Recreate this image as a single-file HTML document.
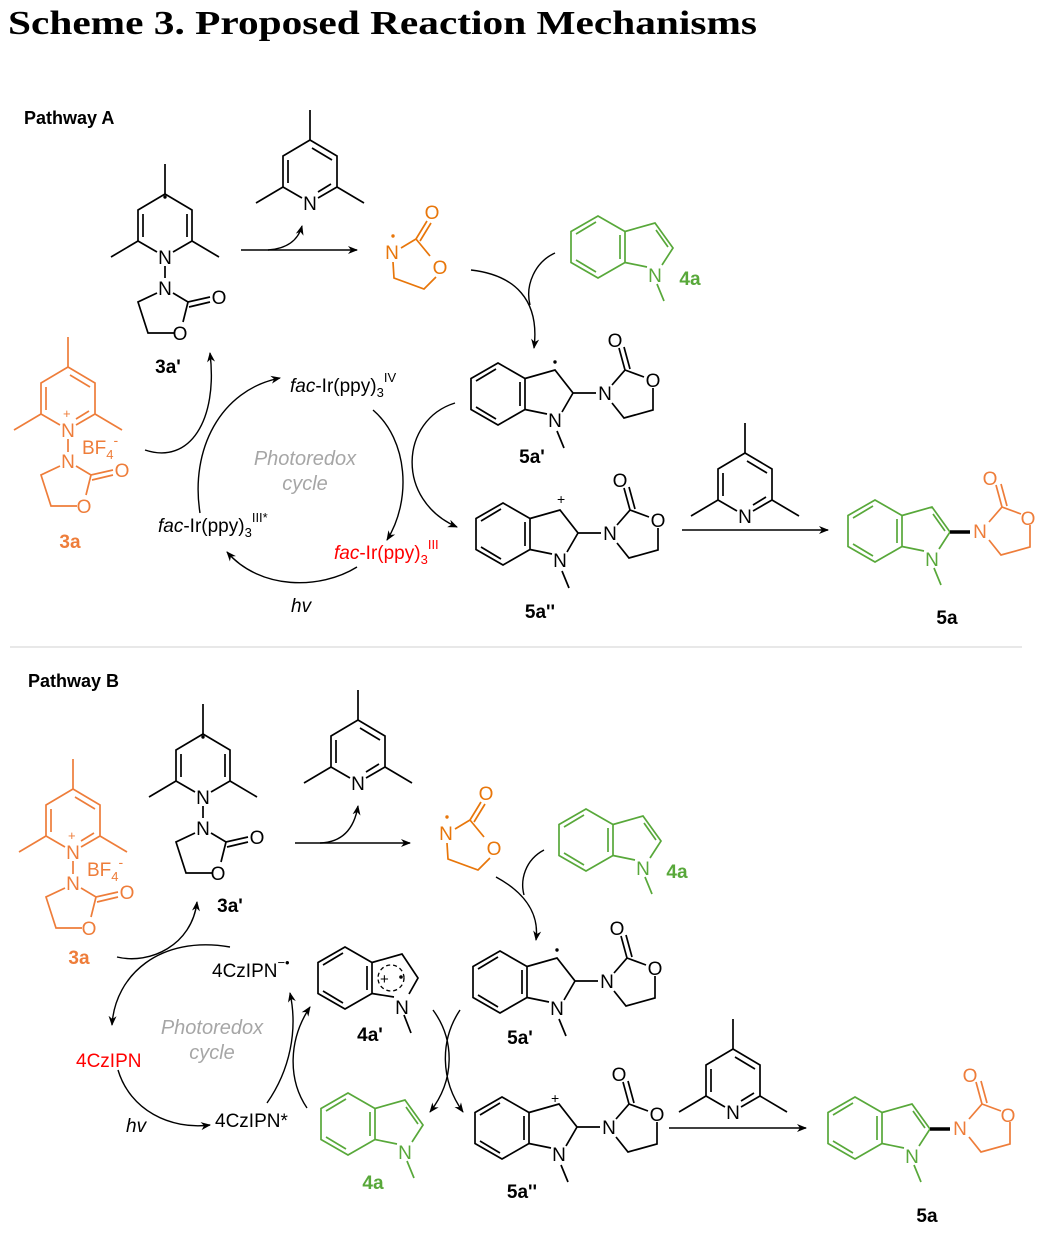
<!DOCTYPE html>
<html><head><meta charset="utf-8"><style>
html,body{margin:0;padding:0;background:#fff;width:1037px;height:1235px;overflow:hidden}
svg{display:block}
text{font-family:"Liberation Sans",sans-serif}
.at{font-size:19px;text-anchor:middle}
.lb{font-size:19px;font-weight:bold;text-anchor:middle}
.it{font-style:italic}
.gr{fill:#a6a6a6;font-style:italic;font-size:20px;text-anchor:middle}
</style></head><body>
<svg width="1037" height="1235" viewBox="0 0 1037 1235" xmlns="http://www.w3.org/2000/svg">
<defs>
<marker id="ah" viewBox="0 0 10 10" refX="9" refY="5" markerWidth="10" markerHeight="10" orient="auto" markerUnits="userSpaceOnUse">
<path d="M0,1 L10,5 L0,9 L3,5 z" fill="#000"/></marker>
<g id="pyr" fill="none" stroke="currentColor" stroke-width="1.7">
<path d="M-8,-5 L-27,-16 L-27,-47 L0,-63 L27,-47 L27,-16 L8,-5"/>
<path d="M-22,-20 L-22,-43 M2,-55 L22,-43 M21,-19 L8,-11"/>
<path d="M-27,-16 L-54,0 M27,-16 L54,0 M0,-63 L0,-93"/>
</g>
<g id="dhp" fill="none" stroke="currentColor" stroke-width="1.7">
<path d="M-8,-5 L-27,-16 L-27,-47 L0,-63 L27,-47 L27,-16 L8,-5"/>
<path d="M-22,-20 L-22,-43 M22,-20 L22,-43"/>
<path d="M-27,-16 L-54,0 M27,-16 L54,0 M0,-63 L0,-93 M0,9 L0,21"/>
</g>
<g id="oxN" fill="none" stroke="currentColor" stroke-width="1.7">
<path d="M8,5 L23,14 L45,9 M24,19 L45,14 M23,14 L18,34 M9,45 L-17,45 L-27,14 L-8,5"/>
</g>
<g id="oxR" fill="none" stroke="currentColor" stroke-width="1.7">
<path d="M9,-4 L24,-13 L35,-31 M28,-11 L39,-29 M24,-13 L38,4 M44,25 L32,37 L2,26 L1,10"/>
</g>
<g id="benz" fill="none" stroke="currentColor" stroke-width="1.7">
<path d="M0,-31 L27,-15.5 L27,15.5 L0,31 L-27,15.5 L-27,-15.5 Z"/>
<path d="M-22,-13 L-2,-25 M-22,13 L-2,25 M22,-12 L22,12"/>
</g>
<g id="pyrl" fill="none" stroke="currentColor" stroke-width="1.7">
<path d="M27,-15.5 L57,-24 L75,1 L64,18 M49,20 L27,15.5 M58,-17 L70,0 M59,37 L66,54"/>
</g>
<g id="indl" fill="none" stroke="#000" stroke-width="1.7">
<path d="M27,-15.5 L57,-24 L75,-1 L64,18 M49,20 L27,15.5 M59,37 L66,54 M75,-1 L98,-1"/>
<path d="M114,-9 L127,-24 L121,-46 M132,-25 L126,-47 M127,-24 L146,-17 M155,-6 L155,16 L126,24 L114,9"/>
</g>
</defs>

<text x="8" y="34" font-weight="bold" font-size="34" textLength="749" lengthAdjust="spacingAndGlyphs" style="font-family:'Liberation Serif',serif">Scheme 3. Proposed Reaction Mechanisms</text>

<text x="24" y="124" font-size="18" font-weight="bold">Pathway A</text>

<use href="#dhp" x="165" y="257" color="#000"/>
<circle cx="165" cy="197" r="1.7" fill="#000"/>
<text class="at" x="165" y="264">N</text>
<use href="#oxN" x="165" y="288" color="#000"/>
<text class="at" x="165" y="295">N</text>
<text class="at" x="219" y="304">O</text>
<text class="at" x="180" y="340">O</text>
<text class="lb" x="168" y="373">3a'</text>

<use href="#pyr" x="310" y="203" color="#000"/>
<text class="at" x="310" y="210">N</text>

<g color="#e8760a" fill="#e8760a"><use href="#oxR" x="392" y="252"/>
<circle cx="393" cy="236" r="1.7"/>
<text class="at" x="392" y="259">N</text>
<text class="at" x="432" y="219">O</text>
<text class="at" x="440" y="274">O</text></g>

<g color="#58a83a" fill="#58a83a"><use href="#benz" x="598" y="247"/><use href="#pyrl" x="598" y="247"/>
<text class="at" x="655" y="282">N</text>
<text class="lb" x="690" y="285">4a</text></g>

<use href="#benz" x="498" y="394" color="#000"/><use href="#indl" x="498" y="394"/>
<circle cx="555" cy="362" r="1.7" fill="#000"/>
<text class="at" x="555" y="427">N</text><text class="at" x="605" y="400">N</text>
<text class="at" x="615" y="347">O</text><text class="at" x="653" y="387">O</text>
<text class="lb" x="532" y="463">5a'</text>

<use href="#benz" x="503" y="534" color="#000"/><use href="#indl" x="503" y="534"/>
<text x="557" y="504" font-size="14">+</text>
<text class="at" x="560" y="567">N</text><text class="at" x="610" y="540">N</text>
<text class="at" x="620" y="487">O</text><text class="at" x="658" y="527">O</text>
<text class="lb" x="540" y="618">5a''</text>

<use href="#pyr" x="745" y="516" color="#000"/>
<text class="at" x="745" y="523">N</text>
<line x1="682" y1="530" x2="828" y2="530" stroke="#000" stroke-width="1.4" marker-end="url(#ah)"/>

<g color="#58a83a" fill="#58a83a"><use href="#benz" x="875" y="531"/><use href="#pyrl" x="875" y="531"/>
<text class="at" x="932" y="566">N</text></g>
<line x1="950" y1="532" x2="970" y2="532" stroke="#000" stroke-width="3.5"/>
<g fill="#ee7d3a"><g transform="translate(875,531)" fill="none" stroke="#ee7d3a" stroke-width="1.7"><path d="M114,-9 L127,-24 L121,-46 M132,-25 L126,-47 M127,-24 L146,-17 M155,-6 L155,16 L126,24 L114,9"/></g>
<text class="at" x="980" y="538">N</text><text class="at" x="990" y="485">O</text><text class="at" x="1028" y="525">O</text></g>
<text class="lb" x="947" y="624">5a</text>

<text x="290" y="392" font-size="19"><tspan class="it">fac</tspan>-Ir(ppy)<tspan font-size="13" dy="5">3</tspan><tspan font-size="13" dy="-15">IV</tspan></text>
<text x="158" y="532" font-size="19"><tspan class="it">fac</tspan>-Ir(ppy)<tspan font-size="13" dy="5">3</tspan><tspan font-size="13" dy="-15">III*</tspan></text>
<text x="334" y="559" font-size="19" fill="#ff0000"><tspan class="it">fac</tspan>-Ir(ppy)<tspan font-size="13" dy="5">3</tspan><tspan font-size="13" dy="-15">III</tspan></text>
<text class="gr" x="305" y="465">Photoredox</text>
<text class="gr" x="305" y="490">cycle</text>
<text x="291" y="612" font-size="19" font-style="italic">hv</text>

<g color="#ee7d3a" fill="#ee7d3a">
<use href="#pyr" x="68" y="430"/>
<path d="M68,439 L68,452" stroke="#ee7d3a" stroke-width="1.7"/>
<text x="63" y="418" font-size="13">+</text>
<text class="at" x="68" y="437">N</text>
<text x="82" y="454" font-size="19">BF<tspan font-size="13" dy="5">4</tspan><tspan font-size="14" dy="-14">-</tspan></text>
<use href="#oxN" x="68" y="461"/>
<text class="at" x="68" y="468">N</text>
<text class="at" x="122" y="477">O</text>
<text class="at" x="84" y="513">O</text>
<text class="lb" x="70" y="548">3a</text></g>

<g fill="none" stroke="#000" stroke-width="1.4">
<line x1="241" y1="250" x2="357" y2="250" marker-end="url(#ah)"/>
<path d="M268,250 Q296,248 302,226" marker-end="url(#ah)"/>
<path d="M471,270 C515,275 540,300 534,348" marker-end="url(#ah)"/>
<path d="M555,253 C535,262 525,285 530,305"/>
<path d="M200,513 C190,450 220,390 280,378" marker-end="url(#ah)"/>
<path d="M145,450 C190,465 218,420 210,353" marker-end="url(#ah)"/>
<path d="M373,410 C408,440 412,500 387,540" marker-end="url(#ah)"/>
<path d="M455,403 C400,420 395,500 457,527" marker-end="url(#ah)"/>
<path d="M357,567 C320,590 260,590 227,552" marker-end="url(#ah)"/>
</g>

<line x1="10" y1="647" x2="1022" y2="647" stroke="#d0d0d0" stroke-width="1"/>

<text x="28" y="687" font-size="18" font-weight="bold">Pathway B</text>

<g color="#ee7d3a" fill="#ee7d3a">
<use href="#pyr" x="73" y="852"/>
<path d="M73,861 L73,874" stroke="#ee7d3a" stroke-width="1.7"/>
<text x="68" y="840" font-size="13">+</text>
<text class="at" x="73" y="859">N</text>
<text x="87" y="876" font-size="19">BF<tspan font-size="13" dy="5">4</tspan><tspan font-size="14" dy="-14">-</tspan></text>
<use href="#oxN" x="73" y="883"/>
<text class="at" x="73" y="890">N</text>
<text class="at" x="127" y="899">O</text>
<text class="at" x="89" y="935">O</text>
<text class="lb" x="79" y="964">3a</text></g>

<use href="#dhp" x="203" y="797" color="#000"/>
<circle cx="203" cy="737" r="1.7" fill="#000"/>
<text class="at" x="203" y="804">N</text>
<use href="#oxN" x="203" y="828" color="#000"/>
<text class="at" x="203" y="835">N</text>
<text class="at" x="257" y="844">O</text>
<text class="at" x="218" y="880">O</text>
<text class="lb" x="230" y="912">3a'</text>

<use href="#pyr" x="358" y="783" color="#000"/>
<text class="at" x="358" y="790">N</text>

<g color="#e8760a" fill="#e8760a"><use href="#oxR" x="446" y="833"/>
<circle cx="447" cy="817" r="1.7"/>
<text class="at" x="446" y="840">N</text>
<text class="at" x="486" y="800">O</text>
<text class="at" x="494" y="855">O</text></g>

<g color="#58a83a" fill="#58a83a"><use href="#benz" x="586" y="840"/><use href="#pyrl" x="586" y="840"/>
<text class="at" x="643" y="875">N</text>
<text class="lb" x="677" y="878">4a</text></g>

<use href="#benz" x="500" y="982" color="#000"/><use href="#indl" x="500" y="982"/>
<circle cx="557" cy="950" r="1.7" fill="#000"/>
<text class="at" x="557" y="1015">N</text><text class="at" x="607" y="988">N</text>
<text class="at" x="617" y="935">O</text><text class="at" x="655" y="975">O</text>
<text class="lb" x="520" y="1044">5a'</text>

<use href="#benz" x="502" y="1128" color="#000"/><use href="#indl" x="502" y="1128"/>
<text x="551" y="1103" font-size="14">+</text>
<text class="at" x="559" y="1161">N</text><text class="at" x="609" y="1134">N</text>
<text class="at" x="619" y="1081">O</text><text class="at" x="657" y="1121">O</text>
<text class="lb" x="522" y="1198">5a''</text>

<use href="#pyr" x="733" y="1112" color="#000"/>
<text class="at" x="733" y="1119">N</text>
<line x1="669" y1="1128" x2="806" y2="1128" stroke="#000" stroke-width="1.4" marker-end="url(#ah)"/>

<g color="#58a83a" fill="#58a83a"><use href="#benz" x="855" y="1128"/><use href="#pyrl" x="855" y="1128"/>
<text class="at" x="912" y="1163">N</text></g>
<line x1="930" y1="1129" x2="950" y2="1129" stroke="#000" stroke-width="3.5"/>
<g fill="#ee7d3a"><g transform="translate(855,1128)" fill="none" stroke="#ee7d3a" stroke-width="1.7"><path d="M114,-9 L127,-24 L121,-46 M132,-25 L126,-47 M127,-24 L146,-17 M155,-6 L155,16 L126,24 L114,9"/></g>
<text class="at" x="960" y="1135">N</text><text class="at" x="970" y="1082">O</text><text class="at" x="1008" y="1122">O</text></g>
<text class="lb" x="927" y="1222">5a</text>

<use href="#benz" x="345" y="978" color="#000"/>
<g fill="none" stroke="#000" stroke-width="1.7"><path d="M372,962.5 L402,954 L418,978 L409,994 M394,997 L372,993.5 M404,1015 L411,1033"/></g>
<circle cx="391" cy="978" r="13" fill="none" stroke="#000" stroke-width="1.3" stroke-dasharray="4,3"/>
<text x="380" y="984" font-size="15">+</text><circle cx="401" cy="977" r="1.8" fill="#000"/>
<text class="at" x="402" y="1014">N</text>
<text class="lb" x="370" y="1041">4a'</text>

<g color="#58a83a" fill="#58a83a"><use href="#benz" x="348" y="1124"/><use href="#pyrl" x="348" y="1124"/>
<text class="at" x="405" y="1159">N</text>
<text class="lb" x="373" y="1189">4a</text></g>

<text x="212" y="977" font-size="19">4CzIPN<tspan font-size="13" dy="-10">−•</tspan></text>
<text x="76" y="1067" font-size="19" fill="#ff0000">4CzIPN</text>
<text x="215" y="1127" font-size="19">4CzIPN*</text>
<text class="gr" x="212" y="1034">Photoredox</text>
<text class="gr" x="212" y="1059">cycle</text>
<text x="126" y="1132" font-size="19" font-style="italic">hv</text>

<g fill="none" stroke="#000" stroke-width="1.4">
<line x1="295" y1="843" x2="410" y2="843" marker-end="url(#ah)"/>
<path d="M320,843 Q352,842 358,806" marker-end="url(#ah)"/>
<path d="M496,877 C520,890 540,910 536,940" marker-end="url(#ah)"/>
<path d="M544,850 C525,860 520,880 524,895"/>
<path d="M117,957 C150,965 192,945 197,902" marker-end="url(#ah)"/>
<path d="M230,947 C160,935 115,975 112,1025" marker-end="url(#ah)"/>
<path d="M118,1070 C130,1110 170,1130 210,1125" marker-end="url(#ah)"/>
<path d="M267,1103 C290,1070 298,1030 290,993" marker-end="url(#ah)"/>
<path d="M307,1108 C288,1080 288,1040 310,1007" marker-end="url(#ah)"/>
<path d="M433,1010 C455,1040 455,1080 430,1112" marker-end="url(#ah)"/>
<path d="M460,1010 C440,1040 440,1080 463,1112" marker-end="url(#ah)"/>
</g>
</svg>
</body></html>
